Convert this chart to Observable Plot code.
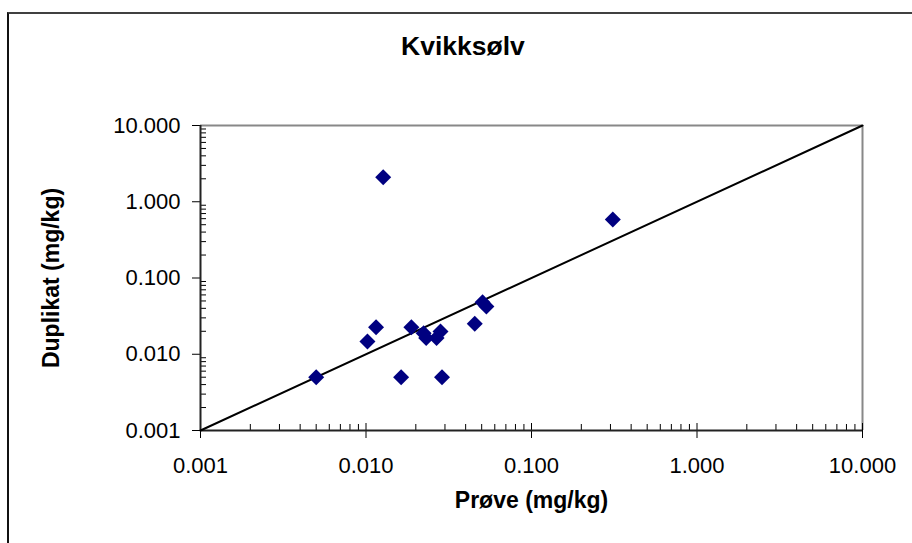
<!DOCTYPE html>
<html>
<head>
<meta charset="utf-8">
<script src="https://cdn.jsdelivr.net/npm/d3@7"></script>
<script src="https://cdn.jsdelivr.net/npm/@observablehq/plot@0.6"></script>
<style>
  html, body { margin: 0; padding: 0; background: #fff; }
  #wrap { position: relative; width: 912px; height: 543px; overflow: hidden; font-family: "Liberation Sans", Arial, sans-serif; }
  #border { position: absolute; left: 7px; top: 12px; width: 920px; height: 560px; border-top: 2px solid #404040; border-left: 2px solid #111; box-sizing: border-box; pointer-events: none; }
  #title { position: absolute; left: 0; width: 926px; top: 32px; text-align: center; font-weight: bold; font-size: 25px; color: #000; transform: scaleX(1.06); }
  #chart { position: absolute; left: 0; top: 0; }
</style>
</head>
<body>
<div id="wrap">
  <div id="chart"></div>
  <div id="border"></div>
  <div id="title">Kvikksølv</div>
</div>
<script>
// Data
const prove    = [0.005, 0.0127, 0.0102, 0.0115, 0.0163, 0.0188, 0.0223, 0.0231, 0.0267, 0.0282, 0.0288, 0.0454, 0.0506, 0.0534, 0.31];
const duplikat = [0.005, 2.1,    0.0147, 0.0226, 0.005,  0.0226, 0.0189, 0.0163, 0.0163, 0.0199, 0.005,  0.0251, 0.0482, 0.0423, 0.585];
const majorTicks = [0.001, 0.01, 0.1, 1, 10];
const tickLabels = ["0.001", "0.010", "0.100", "1.000", "10.000"];
const identityLine = [0.001, 10];
const xTitle = "Prøve (mg/kg)";
const yTitle = "Duplikat (mg/kg)";

const points = prove.map((x, i) => ({x, y: duplikat[i]}));
const minorTicks = [];
for (const d of majorTicks.slice(0, -1)) for (let k = 2; k <= 9; k++) minorTicks.push(d * k);
const fmt = d => tickLabels[majorTicks.findIndex(t => Math.abs(t - d) / t < 1e-9)];

const chart = Plot.plot({
  width: 912,
  height: 543,
  marginLeft: 200,
  marginRight: 50,
  marginTop: 125,
  marginBottom: 113,
  style: {fontFamily: "'Liberation Sans', Arial, sans-serif", color: "#000", background: "transparent", overflow: "visible"},
  x: {type: "log", domain: [0.001, 10]},
  y: {type: "log", domain: [0.001, 10]},
  marks: [
    // frame top/right (gray)
    Plot.ruleY([10], {stroke: "#888", strokeWidth: 2}),
    Plot.ruleX([10], {stroke: "#888", strokeWidth: 2}),
    // x axis
    Plot.axisX(majorTicks, {anchor: "bottom", tickSize: 8, tickPadding: 19, tickFormat: fmt, fontSize: 22, label: null, stroke: "#000"}),
    Plot.axisX(majorTicks, {anchor: "bottom", tickSize: -7, tickFormat: () => "", label: null, stroke: "#000"}),
    Plot.axisX(minorTicks, {anchor: "bottom", tickSize: -6, tickFormat: () => "", label: null, stroke: "#000"}),
    // y axis
    Plot.axisY(majorTicks, {anchor: "left", tickSize: 8, tickPadding: 12, tickFormat: fmt, fontSize: 22, label: null, stroke: "#000"}),
    Plot.axisY(minorTicks, {anchor: "left", tickSize: -6, tickFormat: () => "", label: null, stroke: "#000"}),
    // axis lines
    Plot.ruleY([0.001], {stroke: "#222", strokeWidth: 2}),
    Plot.ruleX([0.001], {stroke: "#222", strokeWidth: 2}),
    // identity line
    Plot.line(identityLine, {x: d => d, y: d => d, stroke: "#000", strokeWidth: 2}),
    // points
    Plot.dot(points, {x: "x", y: "y", symbol: "diamond2", r: 7.2, fill: "#000080", stroke: "none"}),
    // axis titles
    Plot.text([xTitle], {frameAnchor: "bottom", textAnchor: "middle", text: d => d, dy: 77, fontSize: 23, fontWeight: "bold", fill: "#000"}),
    Plot.text([yTitle], {frameAnchor: "left", textAnchor: "middle", text: d => d, dx: -149, rotate: -90, fontSize: 23, fontWeight: "bold", fill: "#000"})
  ]
});
document.getElementById("chart").appendChild(chart);
</script>
</body>
</html>
